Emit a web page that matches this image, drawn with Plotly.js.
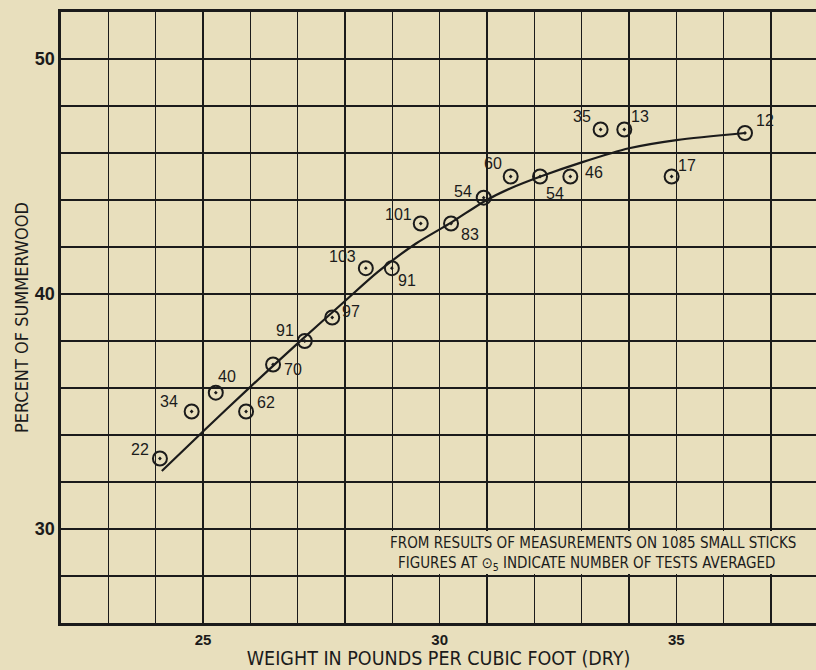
<!DOCTYPE html>
<html>
<head>
<meta charset="utf-8">
<script src="https://cdn.plot.ly/plotly-3.0.1.min.js"></script>
<style>
  html, body { margin: 0; padding: 0; background: #e8dfbd; }
  #chart { width: 816px; height: 670px; }
</style>
</head>
<body>
<div id="chart"></div>
<script>
// ---- data ----
const weight = [24.09, 24.76, 25.27, 25.91, 26.48, 27.15, 27.73, 28.44, 28.99, 29.60, 30.24, 30.93, 31.50, 32.12, 32.76, 33.40, 33.90, 34.90, 36.45];
const summerwood = [33.0, 35.0, 35.8, 35.0, 37.0, 38.0, 39.0, 41.1, 41.1, 43.0, 43.0, 44.1, 45.0, 45.0, 45.0, 47.0, 47.0, 45.0, 46.85];
const tests = [22, 34, 40, 62, 70, 91, 97, 103, 91, 101, 83, 54, 60, 54, 46, 35, 13, 17, 12];

const curveX = [24.13, 25.0, 26.0, 27.0, 28.0, 28.7, 29.5, 30.25, 30.95, 31.5, 32.13, 33.0, 34.0, 35.0, 36.45];
const curveY = [32.47, 34.15, 36.05, 37.9, 39.7, 40.95, 42.15, 43.05, 43.95, 44.5, 45.0, 45.6, 46.2, 46.55, 46.85];

const xTicks = [25, 30, 35];
const xTickText = ['25', '30', '35'];
const yTicks = [30, 40, 50];
const yTickText = ['30', '40', '50'];

const xTitle = 'WEIGHT IN POUNDS PER CUBIC FOOT (DRY)';
const yTitle = 'PERCENT OF SUMMERWOOD';
const note1 = 'FROM RESULTS OF MEASUREMENTS ON 1085 SMALL STICKS';
const note2 = 'FIGURES AT \u2299<sub>5</sub> INDICATE NUMBER OF TESTS AVERAGED';

// ---- styling (label offsets in pixels, not data) ----
const labelShift = [
  [-20, -9], [-23, -10], [11, -16], [20, -9], [20, 5], [-20, -11], [19, -6],
  [-23, -12], [15, 12], [-22, -9], [19, 11], [-21, -6], [-18, -13], [15, 17],
  [24, -4], [-19, -13], [16, -13], [15, -11], [20, -13]
];

const ink = '#1b1b1b';
const bg = '#e8dfbd';
const condensed = "'DejaVu Sans Condensed', 'Liberation Sans Narrow', 'Arial Narrow', sans-serif";

const traces = [
  {
    x: curveX, y: curveY, type: 'scatter', mode: 'lines',
    line: { color: ink, width: 2.2, shape: 'spline', smoothing: 0.8 },
    hoverinfo: 'skip', showlegend: false
  },
  {
    x: weight, y: summerwood, type: 'scatter', mode: 'markers',
    marker: { symbol: 'circle-open-dot', size: 14, color: ink, line: { color: ink, width: 2 } },
    showlegend: false
  }
];

const annotations = tests.map((t, i) => ({
  x: weight[i], y: summerwood[i], xref: 'x', yref: 'y',
  text: String(t), showarrow: false,
  xanchor: 'center', yanchor: 'middle',
  xshift: labelShift[i][0], yshift: -labelShift[i][1],
  font: { family: 'Liberation Sans, Arial, sans-serif', size: 16, color: ink }
}));

annotations.push({
  x: 33.24, y: 29.42, xref: 'x', yref: 'y', text: note1, showarrow: false,
  xanchor: 'center', yanchor: 'middle',
  font: { family: condensed, size: 15, color: ink, stretch: 'condensed' }
});
annotations.push({
  x: 33.1, y: 28.55, xref: 'x', yref: 'y', text: note2, showarrow: false,
  xanchor: 'center', yanchor: 'middle',
  font: { family: condensed, size: 15, color: ink, stretch: 'condensed' }
});

const layout = {
  width: 816, height: 670,
  paper_bgcolor: bg, plot_bgcolor: bg,
  margin: { l: 61, r: 0, t: 12, b: 47 },
  showlegend: false,
  xaxis: {
    range: [22, 37.95], tickmode: 'array', tickvals: xTicks, ticktext: xTickText,
    showgrid: true, gridcolor: ink, gridwidth: 1.4,
    minor: { dtick: 1, tick0: 22, showgrid: true, gridcolor: ink, gridwidth: 1.4, ticks: '' },
    showline: true, linecolor: ink, linewidth: 2.6, mirror: true,
    ticks: '', zeroline: false, ticklabelstandoff: 1,
    tickfont: { family: 'Liberation Sans, Arial, sans-serif', size: 15, color: ink, weight: 'bold' },
    title: { text: xTitle, standoff: 3,
      font: { family: condensed, size: 19.5, color: ink, stretch: 'condensed' } },
    fixedrange: true
  },
  yaxis: {
    range: [26, 52], tickmode: 'array', tickvals: yTicks, ticktext: yTickText,
    showgrid: true, gridcolor: ink, gridwidth: 1.4,
    minor: { dtick: 2, tick0: 26, showgrid: true, gridcolor: ink, gridwidth: 1.4, ticks: '' },
    showline: true, linecolor: ink, linewidth: 2.6, mirror: false,
    ticks: '', zeroline: false, ticklabelstandoff: 0,
    tickfont: { family: 'Liberation Sans, Arial, sans-serif', size: 18, color: ink, weight: 'bold' },
    title: { text: yTitle, standoff: 2,
      font: { family: condensed, size: 18, color: ink, stretch: 'condensed' } },
    fixedrange: true
  },
  shapes: [
    { type: 'rect', xref: 'x', yref: 'y', x0: 28.6, x1: 38.5, y0: 28.08, y1: 29.92,
      fillcolor: bg, line: { width: 0 }, layer: 'above' }
  ],
  annotations: annotations
};

Plotly.newPlot('chart', traces, layout, { staticPlot: true, displayModeBar: false });
</script>
</body>
</html>
